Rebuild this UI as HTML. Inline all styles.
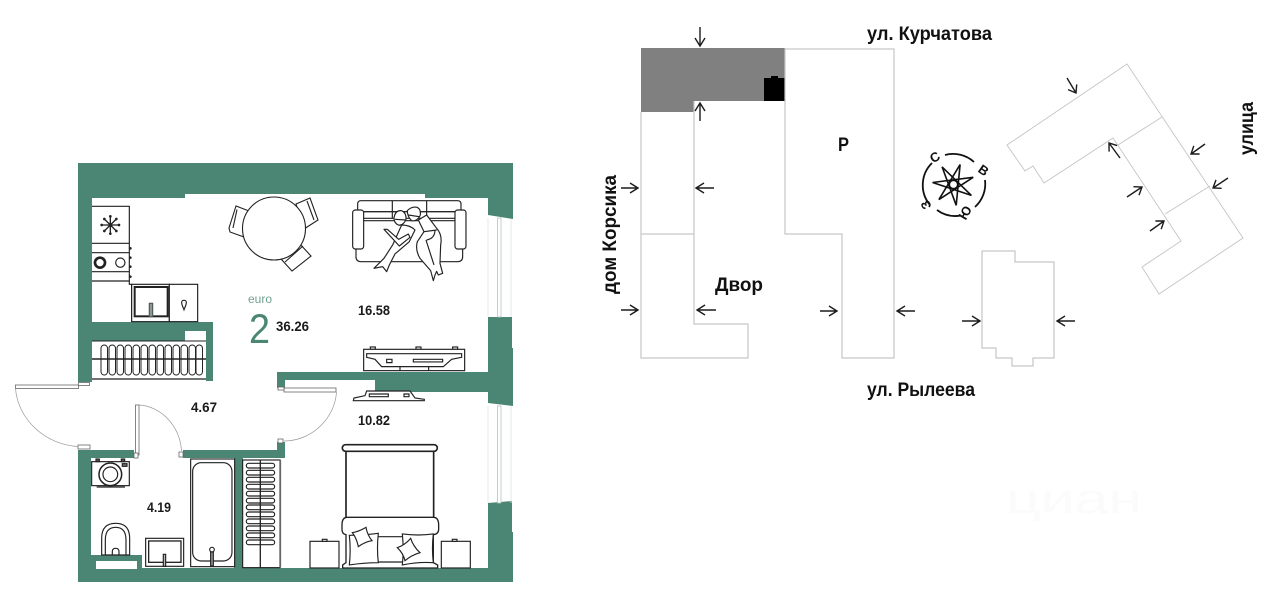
<!DOCTYPE html>
<html><head><meta charset="utf-8"><style>
html,body{margin:0;padding:0;background:#fff;width:1280px;height:591px;overflow:hidden}
svg{display:block}
text{font-family:"Liberation Sans","Noto Sans CJK SC",sans-serif}
.l{fill:#1a1a1a;font-weight:700;font-size:13.5px}
.h{fill:#111;font-weight:700;font-size:19px}
.b{fill:none;stroke:#c6c6c6;stroke-width:1.2}
.r{fill:none;stroke:#c4c4c4;stroke-width:.9}
.a{fill:none;stroke:#1c1c1c;stroke-width:1.4}
.f{fill:#fff;stroke:#222;stroke-width:1.100}
.w{fill:#fff;stroke:#222;stroke-width:1.100}
.d{fill:#fff;stroke:#666;stroke-width:.8}
.arc{fill:none;stroke:#999;stroke-width:.7}
</style></head><body>
<svg width="1280" height="591" viewBox="0 0 1280 591" xmlns="http://www.w3.org/2000/svg">
<rect width="1280" height="591" fill="#fff"/>
<!-- walls -->
<g fill="#4b8674">
<path d="M78 163H513V219L488 215V198H425V194H185V198H92V322H213V381H206V331H185V341H92V382H78Z"/>
<path d="M488 317H512V348H513V406L488 403V392H375V380H285V388H277V372H488Z"/>
<path d="M488 503L512 501V532H513V582H78V450H134V458H91V555H142V568H488Z"/>
<path d="M183 450H277V442H285V458H183Z"/>
<rect x="234" y="458" width="9" height="110"/>
</g>
<rect x="96" y="561" width="41" height="8" fill="#fff"/>
<!-- windows -->
<g fill="none" stroke="#dbe6e2" stroke-width=".8">
<path d="M488 218V317M511 219V317M488 406V503M511 406V503"/>
</g>
<g fill="#fff" stroke="#b4c4be" stroke-width=".8">
<rect x="497.500" y="218" width="3.500" height="99"/><rect x="497.500" y="406" width="3.500" height="97"/>
</g>
<!-- doors -->
<rect class="d" x="15.500" y="385" width="63" height="3.500"/>
<rect class="d" x="78.500" y="382.500" width="11" height="3"/>
<rect class="d" x="78" y="445" width="12" height="4"/>
<path class="arc" d="M15.500 388.500C18 420 46 445 78 446.500"/>
<rect class="d" x="135.500" y="405" width="3.500" height="50"/>
<rect class="d" x="134" y="453" width="4" height="5"/>
<rect class="d" x="179" y="452" width="4" height="5"/>
<path class="arc" d="M139 405C160 406 180 425 181.500 451"/>
<rect class="d" x="284" y="388" width="52" height="4"/>
<rect class="d" x="278" y="387" width="6" height="3"/>
<rect class="d" x="278" y="439" width="5" height="4"/>
<path class="arc" d="M336.500 392C335 418 312 441 284 441"/>

<!-- kitchen -->
<g transform="translate(85 195) scale(.3333)" fill="none" stroke="#222" stroke-width="3.500">
<path d="M21 34H133V268H140V380M21 145H133M21 173H133M21 230H133M21 258H133"/>
<rect x="140" y="268" width="113" height="112" fill="#fff"/>
<rect x="253" y="268" width="85" height="112" fill="#fff"/>
<rect x="149" y="276" width="99" height="88" stroke-width="6"/>
<rect x="193" y="325" width="10" height="40" fill="#8a9a95" stroke="#555"/>
<path d="M290 322C290 314 304 314 304 322C304 330 299 338 297 344C295 338 290 330 290 322Z"/>
<circle cx="45" cy="203" r="15" stroke-width="8"/>
<circle cx="106" cy="203" r="14"/>
<path d="M50 90H102M76 64V116M58 72L94 108M94 72L58 108" stroke-width="4"/>
<g fill="#222" stroke="none"><circle cx="50" cy="90" r="4"/><circle cx="102" cy="90" r="4"/><circle cx="76" cy="64" r="4"/><circle cx="76" cy="116" r="4"/><circle cx="58" cy="72" r="4"/><circle cx="94" cy="108" r="4"/><circle cx="94" cy="72" r="4"/><circle cx="58" cy="108" r="4"/><circle cx="76" cy="90" r="6"/><circle cx="136" cy="160" r="4"/><circle cx="136" cy="188" r="4"/><circle cx="136" cy="215" r="4"/><circle cx="136" cy="245" r="4"/></g>
</g>
<!-- radiator -->
<g fill="none" stroke="#222" stroke-width="1">
<rect x="92" y="341" width="114" height="37" fill="#fff" stroke="none"/>
<rect x="101" y="345" width="6.500" height="30" rx="3.200"/><rect x="109" y="345" width="6.500" height="30" rx="3.200"/><rect x="117" y="345" width="6.500" height="30" rx="3.200"/><rect x="125" y="345" width="6.500" height="30" rx="3.200"/><rect x="133" y="345" width="6.500" height="30" rx="3.200"/><rect x="141" y="345" width="6.500" height="30" rx="3.200"/><rect x="149" y="345" width="6.500" height="30" rx="3.200"/><rect x="157" y="345" width="6.500" height="30" rx="3.200"/><rect x="165" y="345" width="6.500" height="30" rx="3.200"/><rect x="173" y="345" width="6.500" height="30" rx="3.200"/><rect x="181" y="345" width="6.500" height="30" rx="3.200"/><rect x="189" y="345" width="6.500" height="30" rx="3.200"/><rect x="196" y="345" width="6.500" height="30" rx="3.200"/>
<path d="M92 359H206" stroke-width="1.500"/>
<path d="M92 379H206" stroke="#444" stroke-width="1.600"/>
<path d="M92 341H206"/>
</g>
<!-- table + chairs -->
<g class="f">
<path d="M249 211L236 206L229 228L230 232L244 237ZM237 209.500L233 228"/>
<path d="M296 204L310 198L318 220L304 229ZM307 201L314 220"/>
<path d="M281 259L299 243L311 256L292 271ZM285 262L303 246"/>
</g>
<circle class="w" cx="274" cy="228.500" r="31.500"/>
<!-- sofa + people -->
<g transform="translate(260 150) scale(.3333)" stroke="#222" stroke-width="3.500" fill="#fff" stroke-linejoin="round">
<path d="M288 205V320Q288 335 303 335H593Q608 335 608 320V205Z"/>
<path d="M293 185V162Q293 152 303 152H593Q603 152 603 162V185Z"/>
<path d="M397 152V205M500 152V205M310 212H585M293 185H603" fill="none"/>
<rect x="278" y="180" width="33" height="117" rx="8"/>
<rect x="585" y="180" width="33" height="117" rx="8"/>
<path d="M425 225Q450 225 465 240L448 275L405 312L388 345L380 365L368 350L342 355L372 325L398 285Z"/>
<path d="M372 238L418 288L450 262L445 252L416 268L382 238Z"/>
<path d="M475 210L500 195L530 235Q548 255 542 285L540 340L548 370L535 375L530 364L525 375L520 392L512 362L480 325Q465 300 472 275L492 245Z"/>
<path d="M498 270L522 345M492 245L530 240M500 270Q525 265 525 240" fill="none"/>
<path d="M402 205Q405 180 425 182Q440 190 438 208Q430 228 415 225Q403 220 402 205Z"/>
<path d="M442 182Q455 168 472 172Q485 180 480 198Q470 215 455 212Q442 200 442 182Z"/>
<path d="M405 208L438 210M445 195L478 200" fill="none"/>
</g>
<!-- tv stand living -->
<g transform="translate(260 150) scale(.3333)" fill="#fff" stroke="#222" stroke-width="3.500">
<rect x="331" y="591" width="15" height="7"/><rect x="468" y="591" width="15" height="7"/><rect x="578" y="591" width="15" height="7"/>
<rect x="311" y="598" width="303" height="64"/>
<path d="M320 611H605V622L575 628L550 650H365L345 628L320 622Z"/>
<path d="M380 628H396V638H380ZM460 628H548V636H460ZM420 650V662M506 650V662" fill="none"/>
</g>
<!-- bedroom -->
<g transform="translate(270 370) scale(.3333)" fill="#fff" stroke="#222" stroke-width="3.500">
<path d="M250 92L252 84L285 77L290 63H420L435 84L463 88V92Z"/>
<path d="M298 72H355V80H298ZM402 72H417V80H402Z" fill="none"/>
<rect x="228" y="240" width="263" height="205" stroke-width="5"/>
<rect x="217" y="224" width="285" height="20" rx="10" stroke-width="5"/>
<path d="M216 465Q216 442 232 442H490Q506 442 506 465V478Q506 492 490 494V578L503 585V594H218V585L228 578V494Q216 492 216 478Z" stroke-width="4"/>
<path d="M238 496Q280 496 325 490Q320 535 325 578Q280 578 238 585Q243 540 238 496Z"/>
<path d="M397 492Q445 498 490 492Q485 535 490 578Q445 575 397 585Q402 540 397 492Z"/>
<path d="M247 488Q268 484 288 472Q292 495 306 512Q285 515 265 530Q260 505 247 488Z"/>
<path d="M382 533Q405 525 422 505Q430 530 450 548Q425 555 405 572Q400 550 382 533Z"/>
<path d="M325 500H397M325 576H397" fill="none"/>
<rect x="120" y="514" width="87" height="80"/><rect x="157" y="508" width="14" height="6"/>
<rect x="514" y="514" width="87" height="80"/><rect x="547" y="508" width="14" height="6"/>
</g>
<!-- bathroom -->
<g transform="translate(0 370) scale(.3333)" fill="#fff" stroke="#222" stroke-width="3.500">
<rect x="275" y="275" width="113" height="72"/>
<rect x="288" y="267" width="10" height="8" fill="#555"/><rect x="364" y="267" width="10" height="8" fill="#555"/>
<rect x="367" y="281" width="14" height="8" fill="#777"/>
<circle cx="331" cy="313" r="34" stroke-width="4.500"/><circle cx="331" cy="313" r="22"/>
<path d="M290 351H375" stroke-width="4"/>
<path d="M305 555V505Q305 460 347 460Q389 460 389 505V555H305Z"/>
<path d="M316 555V510Q316 472 347 472Q378 472 378 510V555" fill="none"/>
<path d="M337 555V545Q337 535 347 535Q357 535 357 545V555" fill="none"/>
<rect x="437" y="505" width="114" height="84"/>
<rect x="446" y="513" width="97" height="64" stroke-width="4"/>
<rect x="490" y="553" width="7" height="36" fill="#bbb"/>
<rect x="572" y="267" width="132" height="323"/>
<rect x="578" y="278" width="118" height="295" rx="26"/>
<circle cx="636" cy="539" r="7"/><rect x="632" y="546" width="8" height="42" fill="#9a9a9a"/>
<rect x="728" y="270" width="112" height="323"/>
<g fill="none" stroke-width="3.500">
<rect x="739" y="280" width="85" height="14" rx="7"/><rect x="739" y="301" width="85" height="14" rx="7"/><rect x="739" y="322" width="85" height="14" rx="7"/><rect x="739" y="343" width="85" height="14" rx="7"/><rect x="739" y="364" width="85" height="14" rx="7"/><rect x="739" y="385" width="85" height="14" rx="7"/><rect x="739" y="405" width="85" height="14" rx="7"/><rect x="739" y="426" width="85" height="14" rx="7"/><rect x="739" y="447" width="85" height="14" rx="7"/><rect x="739" y="468" width="85" height="14" rx="7"/><rect x="739" y="489" width="85" height="14" rx="7"/><rect x="739" y="510" width="85" height="14" rx="7"/>
<path d="M781 270V593" stroke-width="4"/>
<path d="M841 270V593" stroke="#666" stroke-width="5"/>
</g>
</g>
<!-- labels -->
<text x="248" y="303" font-size="11.500" fill="#6f9f90" textLength="24" lengthAdjust="spacingAndGlyphs">euro</text>
<text x="249" y="343" font-size="42" fill="#4b8674" textLength="21" lengthAdjust="spacingAndGlyphs">2</text>
<text class="l" x="276" y="331" textLength="33" lengthAdjust="spacingAndGlyphs">36.26</text>
<text class="l" x="358" y="315" textLength="32" lengthAdjust="spacingAndGlyphs">16.58</text>
<text class="l" x="191" y="412" textLength="26" lengthAdjust="spacingAndGlyphs">4.67</text>
<text class="l" x="358" y="425" textLength="32" lengthAdjust="spacingAndGlyphs">10.82</text>
<text class="l" x="147" y="512" textLength="24" lengthAdjust="spacingAndGlyphs">4.19</text>

<!-- site plan -->
<path d="M641 48H785V101H694V112H641Z" fill="#808080"/>
<path d="M764 78H771V76H778V78H785V101H764Z" fill="#000"/>
<path class="b" d="M641 112V358H748V324H694V101"/>
<path class="b" d="M641 234H694"/>
<path class="b" d="M785 49H894V358H842V234H785Z"/>
<path class="r" d="M1127 64L1243 238L1159 294L1142 267L1181 241L1113 138L1044 183L1033 166L1025 171L1007 145Z"/>
<path class="r" d="M1162 117L1118 145M1210 186L1165 214"/>
<path class="b" d="M982 251H1015V262H1054V358H1033V366H1012V358H996V348H982Z"/>
<!-- arrows -->
<g class="a">
<path d="M700 27V45M695 38L700 46L705 38"/>
<path d="M700 121V103M695 111L700 103L705 111"/>
<path d="M621 188H638M630 183L638 188L630 193"/>
<path d="M714 188H696M704 183L696 188L704 193"/>
<path d="M621 310H638M630 305L638 310L630 315"/>
<path d="M716 310H697M705 305L697 310L705 315"/>
<path d="M820 311H837M829 306L837 311L829 316"/>
<path d="M915 311H897M905 306L897 311L905 316"/>
<path d="M962 321H980M972 316L980 321L972 326"/>
<path d="M1075 321H1057M1065 316L1057 321L1065 326"/>
<path d="M1067 78L1076 93M1068.100 89.600L1076 93L1076.700 84.400"/>
<path d="M1205 144L1191 154M1193.800 145.800L1191 154L1199.600 154"/>
<path d="M1228 178L1213 188M1216 179.900L1213 188L1221.600 188.300"/>
<path d="M1127 197L1142 187M1133.400 186.700L1142 187L1139 195.100"/>
<path d="M1150 231L1164 221M1155.400 221L1164 221L1161.200 229.200"/>
<path d="M1120 158L1109 143M1117.100 145.600L1109 143L1109.100 151.600"/>
</g>
<!-- compass -->
<g fill="none" stroke="#111" stroke-width="1.800">
<path d="M932 163A31 31 0 0 0 930 205M937 210A31 31 0 0 0 961 215.500M975 207A31 31 0 0 0 985 180M974 162A31 31 0 0 0 945 155"/>
<path d="M942.100 166.900L971.400 195.400L932.600 182.500L973.200 177.300L938.900 199.600L960.100 164.600L956.200 205.300Z" stroke-width="1.600"/>
<circle cx="953.500" cy="184.500" r="4" stroke-width="1.200"/>
</g>
<g font-size="13" font-weight="700" fill="#111" text-anchor="middle">
<text transform="translate(937 161) rotate(-30)">С</text>
<text transform="translate(981 174) rotate(35)">В</text>
<text transform="translate(969 215) rotate(-60)">Ю</text>
<text transform="translate(930 203) rotate(-115)">З</text>
</g>
<text class="h" x="867" y="40" textLength="125" lengthAdjust="spacingAndGlyphs">ул. Курчатова</text>
<text class="h" x="867" y="396" textLength="108" lengthAdjust="spacingAndGlyphs">ул. Рылеева</text>
<text class="h" x="715" y="291" textLength="48" lengthAdjust="spacingAndGlyphs">Двор</text>
<text class="h" x="838" y="151" textLength="11" lengthAdjust="spacingAndGlyphs">Р</text>
<text class="h" transform="translate(616 294) rotate(-90)" textLength="119" lengthAdjust="spacingAndGlyphs">дом Корсика</text>
<text class="h" transform="translate(1253 155) rotate(-90)" textLength="53" lengthAdjust="spacingAndGlyphs">улица</text>
<text x="1006" y="513" font-size="42" fill="#fbfbfb" textLength="136" lengthAdjust="spacingAndGlyphs">циан</text>
</svg>
</body></html>
